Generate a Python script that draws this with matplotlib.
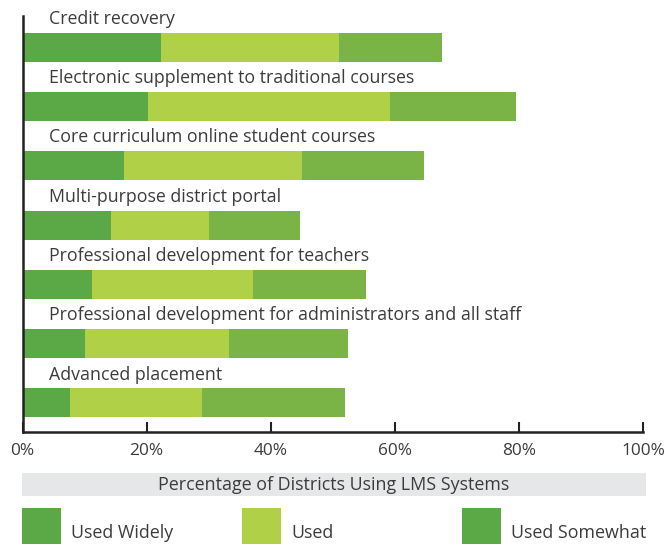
import numpy as np
import matplotlib.pyplot as plt
from matplotlib.patches import Rectangle

plt.rcParams['font.family'] = ['Open Sans', 'DejaVu Sans']

categories = ['Credit recovery',
              'Electronic supplement to traditional courses',
              'Core curriculum online student courses',
              'Multi-purpose district portal',
              'Professional development for teachers',
              'Professional development for administrators and all staff',
              'Advanced placement']
used_widely = [22.4, 20.3, 16.3, 14.2, 11.2, 10.0, 7.7]
used = [28.6, 39.0, 28.7, 15.8, 25.9, 23.3, 21.2]
used_somewhat = [16.6, 20.3, 19.7, 14.8, 18.2, 19.2, 23.0]
series_names = ['Used Widely', 'Used', 'Used Somewhat']
ticks = [0, 20, 40, 60, 80, 100]
xlabel = 'Percentage of Districts Using LMS Systems'

c_wide = '#5aa846'
c_used = '#b0d147'
c_some = '#7bb446'
txt = '#3c3c3c'

W, H = 664, 544
fig = plt.figure(figsize=(W / 100, H / 100), dpi=100)
ax = fig.add_axes([22.5 / W, 1 - 432 / H, (643 - 22.5) / W, (432 - 16) / H])

y = np.arange(len(categories))
w = np.array(used_widely)
u = np.array(used)
s = np.array(used_somewhat)
ax.barh(y, w, height=0.49, color=c_wide, linewidth=0)
ax.barh(y, u, left=w, height=0.49, color=c_used, linewidth=0)
ax.barh(y, s, left=w + u, height=0.49, color=c_some, linewidth=0)

for i, name in enumerate(categories):
    ax.text(4.3, i - 0.48, name, va='center', ha='left', fontsize=12.8, color=txt)

ax.set_xlim(0, 100)
ax.set_ylim(6.49, -0.53)
ax.set_xticks(ticks)
ax.set_xticklabels([f'{t}%' for t in ticks])
ax.set_yticks([])
for sp in ['top', 'right']:
    ax.spines[sp].set_visible(False)
ax.spines['left'].set_color('#222222')
ax.spines['bottom'].set_color('#222222')
ax.spines['left'].set_linewidth(1.8)
ax.spines['bottom'].set_linewidth(1.8)
ax.tick_params(axis='x', direction='in', length=7, width=1.5, color='#222222',
               labelsize=12.4, labelcolor=txt, pad=8)

# grey title band
fig.add_artist(Rectangle((22 / W, 1 - 496 / H), (646 - 22) / W, 23 / H,
                         transform=fig.transFigure, color='#e6e7e8', lw=0))
fig.text((22 + 646) / 2 / W, 1 - 484.5 / H, xlabel, ha='center', va='center',
         fontsize=12.9, color=txt)

# legend
legend_colors = [c_wide, c_used, c_wide]
for k, (name, col) in enumerate(zip(series_names, legend_colors)):
    x0 = 22 + k * 220
    fig.add_artist(Rectangle((x0 / W, 0), 39 / W, 36 / H,
                             transform=fig.transFigure, color=col, lw=0))
    fig.text((x0 + 49) / W, 1 - 533 / H, name, ha='left', va='center',
             fontsize=12.9, color=txt)

plt.savefig('out.png', dpi=100)
